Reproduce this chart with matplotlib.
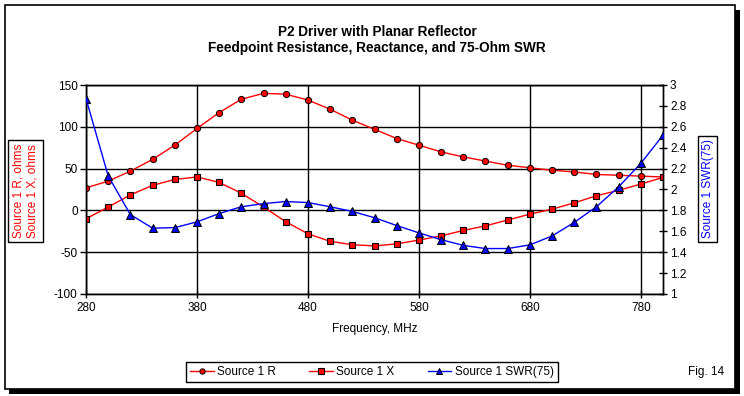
import numpy as np
from matplotlib import pyplot as plt
from matplotlib.patches import Rectangle

plt.rcParams["font.family"] = ["Liberation Sans", "DejaVu Sans"]
plt.rcParams["axes.unicode_minus"] = False

freq = list(range(280, 801, 20))

res_r = [27, 35, 47, 61, 78, 98, 117, 133, 140, 139, 132, 121, 108, 97,
         86, 78, 70, 64, 59, 54, 51, 48, 46, 43, 42, 41, 40]

res_x = [-10, 4, 18.5, 30, 37, 40, 33.5, 20.5, 4, -13.5, -28, -37, -41, -42.5,
         -40, -35.5, -30.5, -24, -18.5, -11.5, -4.5, 1.5, 9, 17.5, 24, 31.5, 39.5]

swr = [2.87, 2.13, 1.76, 1.63, 1.635, 1.69, 1.77, 1.835, 1.865, 1.885, 1.875, 1.835, 1.79, 1.73,
       1.655, 1.585, 1.52, 1.465, 1.435, 1.435, 1.47, 1.555, 1.685, 1.835, 2.025, 2.25, 2.52]

W, H = 744, 396
fig = plt.figure(figsize=(W/100, H/100), dpi=100)

# chart frame with shadow
fig.patches.append(Rectangle((9/W, 2/H), 731/W, 384/H, transform=fig.transFigure,
                             facecolor="black", edgecolor="none", zorder=0))
fig.patches.append(Rectangle((5/W, 7/H), 730/W, 384/H, transform=fig.transFigure,
                             facecolor="white", edgecolor="black", lw=1.2, zorder=1))

ax = fig.add_axes([86/W, (H-294)/H, (663-86)/W, (294-85)/H], zorder=5)
ax2 = ax.twinx()

ax.plot(freq, res_r, color="red", lw=1, marker="o", ms=4.5, mfc="red", mec="black", mew=0.7,
        label="Source 1 R", zorder=4)
ax.plot(freq, res_x, color="red", lw=1, marker="s", ms=5, mfc="red", mec="black", mew=0.8,
        label="Source 1 X", zorder=4)
ax2.plot(freq, swr, color="blue", lw=1, marker="^", ms=5.5, mfc="blue", mec="black", mew=0.7,
         label="Source 1 SWR(75)", zorder=4)

ax.set_xlim(280, 800)
ax.set_ylim(-100, 150)
ax.set_xticks(range(280, 800, 100))
ax.set_yticks(range(-100, 151, 50))
ax.grid(True, color="black", lw=1)
ax.set_axisbelow(True)
ax.tick_params(axis="y", direction="out", length=4, width=1, labelsize=8.5, pad=2)
ax.tick_params(axis="x", direction="inout", length=6, width=1, labelsize=8.5, pad=3)

ax2.set_ylim(1, 3)
ax2.set_yticks(np.arange(1, 3.01, 0.2))
ax2.set_yticklabels(["1", "1.2", "1.4", "1.6", "1.8", "2", "2.2", "2.4", "2.6", "2.8", "3"])
ax2.tick_params(axis="y", direction="inout", length=6, width=1, labelsize=8.5, pad=2)

for a in (ax, ax2):
    for s in a.spines.values():
        s.set_linewidth(1)
        s.set_color("black")

ax.set_xlabel("Frequency, MHz", fontsize=8.5, labelpad=6)

fig.text(377/W, 1-32/H, "P2 Driver with Planar Reflector", ha="center", va="center",
         fontsize=9.8, fontweight="bold")
fig.text(377/W, 1-48/H, "Feedpoint Resistance, Reactance, and 75-Ohm SWR", ha="center", va="center",
         fontsize=9.8, fontweight="bold")

fig.text(25.5/W, 1-191/H, "Source 1 R, ohms\nSource 1 X, ohms", rotation=90, ha="center", va="center",
         color="red", fontsize=8.5, linespacing=1.25,
         bbox=dict(facecolor="white", edgecolor="black", lw=1, boxstyle="square,pad=0.35"))
fig.text(707.5/W, 1-189/H, "Source 1 SWR(75)", rotation=90, ha="center", va="center",
         color="blue", fontsize=8.5,
         bbox=dict(facecolor="white", edgecolor="black", lw=1, boxstyle="square,pad=0.3"))

h1, l1 = ax.get_legend_handles_labels()
h2, l2 = ax2.get_legend_handles_labels()
leg = fig.legend(h1 + h2, l1 + l2, loc="center", bbox_to_anchor=(372/W, 1-372/H), ncol=3,
                 fontsize=8.5, frameon=True, fancybox=False, edgecolor="black", framealpha=1,
                 handlelength=2.0, handletextpad=0.3, columnspacing=2.8, borderpad=0.35,
                 markerscale=0.85)
leg.get_frame().set_linewidth(1)

fig.text(706/W, 1-372/H, "Fig. 14", ha="center", va="center", fontsize=8.5)

plt.savefig("out.png", dpi=100)
